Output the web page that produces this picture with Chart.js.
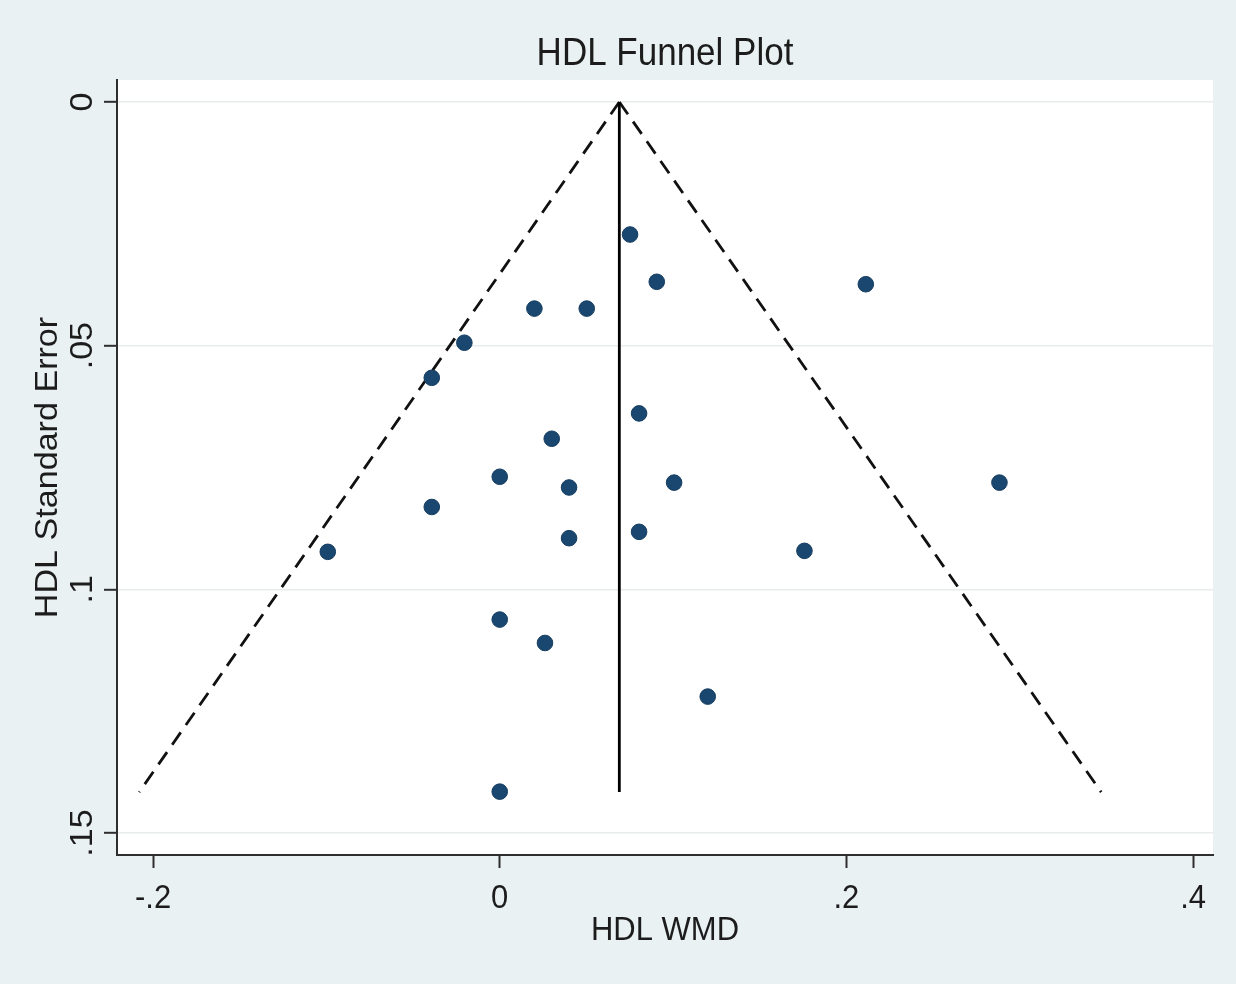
<!DOCTYPE html>
<html>
<head>
<meta charset="utf-8">
<title>HDL Funnel Plot</title>
<script src="https://cdn.jsdelivr.net/npm/chart.js@4/dist/chart.umd.min.js"></script>
<style>
  html, body { margin: 0; padding: 0; background: #eaf1f3; }
  #wrap { width: 1236px; height: 984px; }
</style>
</head>
<body>
<div id="wrap"><canvas id="funnel" width="1236" height="984"></canvas></div>
<script>
// Study-level weighted mean differences and their standard errors
const studyWMD = [0.0752, 0.0906, 0.2112, 0.0200, 0.0502, -0.0204, -0.0392, 0.0804, 0.0300, 0.0000, 0.0400,
                  0.1006, 0.2883, -0.0392, 0.0804, 0.0400, -0.0992, 0.1758, 0.0000, 0.0261, 0.1200, 0.0000];
const studySE  = [0.0272, 0.0369, 0.0374, 0.0424, 0.0424, 0.0494, 0.0566, 0.0639, 0.0691, 0.0769, 0.0791,
                  0.0781, 0.0781, 0.0831, 0.0882, 0.0895, 0.0923, 0.0921, 0.1062, 0.1110, 0.1220, 0.1415];

// Pooled estimate and pseudo 95% confidence limits
const pooledWMD   = 0.069;
const limitSE     = [0, 0.1416];
const lowerLimit  = [0.069, -0.208];
const upperLimit  = [0.069, 0.347];

// Axes
const X_TICKS = [-0.2, 0, 0.2, 0.4];
const X_TICK_LABELS = ['-.2', '0', '.2', '.4'];
const Y_TICKS = [0, 0.05, 0.1, 0.15];
const Y_TICK_LABELS = ['0', '.05', '.1', '.15'];
const X_RANGE = [-0.2208, 0.4115];
const Y_RANGE = [-0.0045, 0.1545];

const TITLE = 'HDL Funnel Plot';
const X_TITLE = 'HDL WMD';
const Y_TITLE = 'HDL Standard Error';

const FONT = '"Liberation Sans", Arial, Helvetica, sans-serif';
const INK = '#1c1c1c';
const AXIS = '#2e2e2e';
const TALL = 1.1; // text is drawn slightly taller than wide

const studyPoints = studyWMD.map((x, i) => ({ x: x, y: studySE[i] }));
const lowerLine = limitSE.map((s, i) => ({ x: lowerLimit[i], y: s }));
const upperLine = limitSE.map((s, i) => ({ x: upperLimit[i], y: s }));
const pooledLine = limitSE.map(s => ({ x: pooledWMD, y: s }));

const backdrop = {
  id: 'backdrop',
  beforeDraw(chart) {
    const { ctx, chartArea: a } = chart;
    ctx.save();
    ctx.fillStyle = '#eaf1f3';
    ctx.fillRect(0, 0, chart.width, chart.height);
    ctx.fillStyle = '#ffffff';
    ctx.fillRect(a.left, a.top, a.right - a.left, a.bottom - a.top);
    ctx.restore();
  }
};

// horizontal text, baseline at (x, y), stretched vertically
function tallText(ctx, str, x, y) {
  ctx.save();
  ctx.translate(x, y);
  ctx.scale(1, TALL);
  ctx.fillText(str, 0, 0);
  ctx.restore();
}

// text rotated to read upward, baseline at x, centred on y, stretched along its length
function upText(ctx, str, x, y) {
  ctx.save();
  ctx.translate(x, y);
  ctx.rotate(-Math.PI / 2);
  ctx.scale(TALL, 1);
  ctx.fillText(str, 0, 0);
  ctx.restore();
}

const texts = {
  id: 'texts',
  afterDraw(chart) {
    const { ctx, chartArea: a } = chart;
    const ys = chart.scales.y;
    const xs = chart.scales.x;
    const cx = (a.left + a.right) / 2;
    const cy = (a.top + a.bottom) / 2;
    ctx.save();
    ctx.fillStyle = INK;
    ctx.textAlign = 'center';
    ctx.textBaseline = 'alphabetic';

    ctx.font = '35px ' + FONT;
    tallText(ctx, TITLE, cx, 65);

    ctx.font = '31px ' + FONT;
    X_TICKS.forEach((v, i) => {
      tallText(ctx, X_TICK_LABELS[i], xs.getPixelForValue(v), 908);
    });
    tallText(ctx, X_TITLE, cx, 940);

    ctx.font = '31px ' + FONT;
    Y_TICKS.forEach((v, i) => {
      upText(ctx, Y_TICK_LABELS[i], 92, ys.getPixelForValue(v));
    });

    ctx.font = '31px ' + FONT;
    upText(ctx, Y_TITLE, 57, cy);
    ctx.restore();
  }
};

new Chart(document.getElementById('funnel'), {
  type: 'scatter',
  data: {
    datasets: [
      {
        label: 'Studies',
        data: studyPoints,
        backgroundColor: '#1a476f',
        borderColor: '#163d60',
        borderWidth: 1,
        pointRadius: 7.8,
        pointHoverRadius: 7.8
      },
      {
        label: 'Pooled WMD',
        type: 'line',
        data: pooledLine,
        borderColor: '#000000',
        borderWidth: 2.8,
        pointRadius: 0,
        fill: false
      },
      {
        label: 'Lower limit',
        type: 'line',
        data: lowerLine,
        borderColor: '#111111',
        borderWidth: 2.8,
        borderDash: [15, 9],
        pointRadius: 0,
        fill: false
      },
      {
        label: 'Upper limit',
        type: 'line',
        data: upperLine,
        borderColor: '#111111',
        borderWidth: 2.8,
        borderDash: [15, 9],
        pointRadius: 0,
        fill: false
      }
    ]
  },
  options: {
    responsive: false,
    animation: false,
    devicePixelRatio: 1,
    layout: { padding: { top: 80, right: 23, left: 0, bottom: 0 } },
    plugins: {
      legend: { display: false },
      tooltip: { enabled: false },
      title: { display: false }
    },
    scales: {
      x: {
        type: 'linear',
        min: X_RANGE[0],
        max: X_RANGE[1],
        afterBuildTicks(scale) { scale.ticks = X_TICKS.map(v => ({ value: v })); },
        afterFit(scale) { scale.height = 129; },
        ticks: { display: false },
        grid: {
          drawOnChartArea: false,
          drawTicks: true,
          tickLength: 13,
          tickColor: AXIS,
          tickWidth: 2
        },
        border: { display: true, color: AXIS, width: 2 }
      },
      y: {
        type: 'linear',
        reverse: true,
        min: Y_RANGE[0],
        max: Y_RANGE[1],
        afterBuildTicks(scale) { scale.ticks = Y_TICKS.map(v => ({ value: v })); },
        afterFit(scale) { scale.width = 117; },
        ticks: { display: false },
        grid: {
          color: '#e9eced',
          lineWidth: 1.6,
          drawTicks: true,
          tickLength: 13,
          tickColor: AXIS,
          tickWidth: 2
        },
        border: { display: true, color: AXIS, width: 2 }
      }
    }
  },
  plugins: [backdrop, texts]
});
</script>
</body>
</html>
